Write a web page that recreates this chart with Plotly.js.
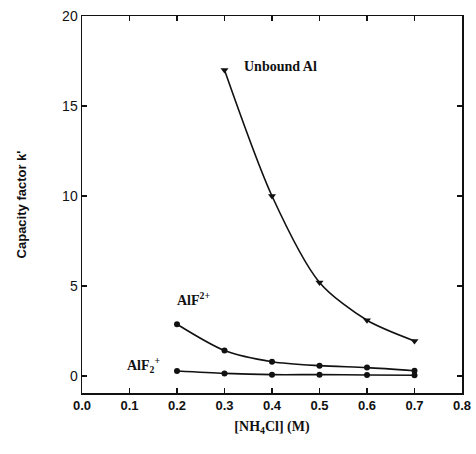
<!DOCTYPE html>
<html><head><meta charset="utf-8">
<script src="https://cdn.plot.ly/plotly-3.0.1.min.js"></script>
<style>html,body{margin:0;padding:0;background:#fff}</style>
</head><body>
<div id="chart" style="width:476px;height:454px"></div>
<script>
const xUnbound = [0.3, 0.4, 0.5, 0.6, 0.7];
const yUnbound = [17.0, 10.0, 5.2, 3.1, 1.95];
const xAlF = [0.2, 0.3, 0.4, 0.5, 0.6, 0.7];
const yAlF = [2.88, 1.42, 0.8, 0.58, 0.47, 0.3];
const xAlF2 = [0.2, 0.3, 0.4, 0.5, 0.6, 0.7];
const yAlF2 = [0.28, 0.15, 0.08, 0.08, 0.06, 0.05];
const xTicks = [0, 0.1, 0.2, 0.3, 0.4, 0.5, 0.6, 0.7, 0.8];
const xTickText = ['0.0','0.1','0.2','0.3','0.4','0.5','0.6','0.7','0.8'];
const yTicks = [0, 5, 10, 15, 20];

const line = {color:'#111', width:1.6, shape:'spline', smoothing:0.8};
const traces = [
  {x:xUnbound, y:yUnbound, mode:'lines+markers', line:line,
   marker:{symbol:'triangle-down', size:7, color:'#111'}},
  {x:xAlF, y:yAlF, mode:'lines+markers', line:line,
   marker:{symbol:'circle', size:6, color:'#111'}},
  {x:xAlF2, y:yAlF2, mode:'lines+markers', line:line,
   marker:{symbol:'circle', size:6, color:'#111'}}
];
const axFont = {family:'Liberation Sans, Arial, sans-serif', size:14, color:'#111'};
const annFont = {family:'Liberation Serif, serif', size:14, color:'#111'};
const layout = {
  width:476, height:454,
  margin:{l:82, r:14, t:16, b:61},
  paper_bgcolor:'#fff', plot_bgcolor:'#fff',
  showlegend:false,
  xaxis:{range:[0,0.8], tickvals:xTicks, ticktext:xTickText,
    ticks:'inside', ticklen:5, tickwidth:1.5, tickcolor:'#111',
    showline:true, linecolor:'#111', linewidth:1.5, mirror:'ticks',
    showgrid:false, zeroline:false, tickfont:Object.assign({}, axFont, {size:13, weight:'bold'}),
    title:{text:'[NH<sub>4</sub>Cl] (M)', font:{family:'Liberation Serif, serif', size:14, color:'#111', weight:'bold'}, standoff:9}},
  yaxis:{range:[-0.94,20], tickvals:yTicks,
    ticks:'inside', ticklen:5, tickwidth:1.5, tickcolor:'#111',
    showline:true, linecolor:'#111', linewidth:1.5, mirror:'ticks',
    showgrid:false, zeroline:false, tickfont:axFont,
    title:{text:"Capacity factor k'", font:{family:'Liberation Sans, Arial, sans-serif', size:13, color:'#111', weight:'bold'}, standoff:32}},
  annotations:[
    {x:0.336, y:17.2, xref:'x', yref:'y', text:'<b>Unbound Al</b>', showarrow:false, xanchor:'left', yanchor:'middle', font:annFont},
    {x:0.195, y:4.3, xref:'x', yref:'y', text:'<b>AlF<sup>2+</sup></b>', showarrow:false, xanchor:'left', yanchor:'middle', font:annFont},
    {x:0.09, y:0.6, xref:'x', yref:'y', text:'<b>AlF<sub>2</sub><sup>+</sup></b>', showarrow:false, xanchor:'left', yanchor:'middle', font:annFont}
  ]
};
Plotly.newPlot('chart', traces, layout, {displayModeBar:false, staticPlot:true});
</script>
</body></html>
